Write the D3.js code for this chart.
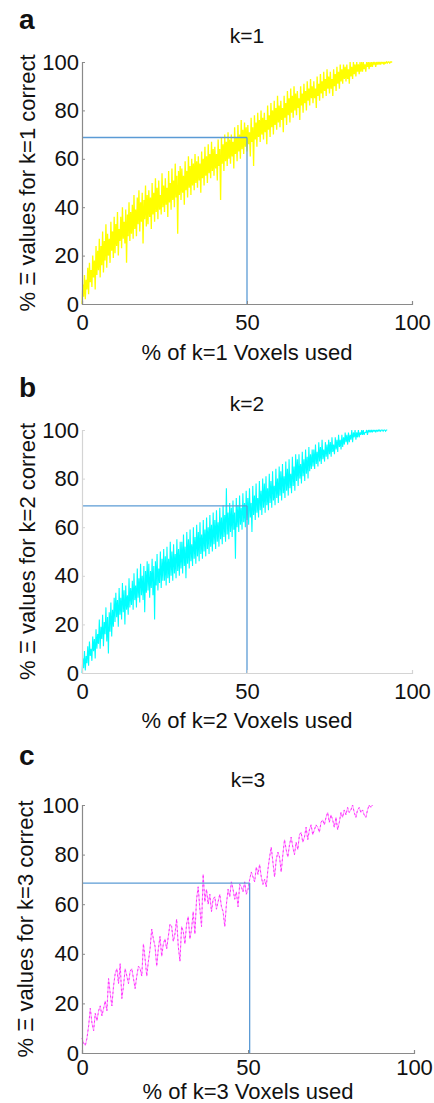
<!DOCTYPE html>
<html><head><meta charset="utf-8">
<script src="https://cdn.jsdelivr.net/npm/d3@7"></script>
<style>
html,body{margin:0;padding:0;background:#fff;}
svg{display:block;font-family:"Liberation Sans",Arial,sans-serif;}
</style></head>
<body>
<svg id="chart" width="434" height="1103"></svg>
<script>
// ---------- data ----------
const panelLetters = ["a", "b", "c"];
const panelTitles = ["k=1", "k=2", "k=3"];
const xLabels = ["% of k=1 Voxels used", "% of k=2 Voxels used", "% of k=3 Voxels used"];
const yLabels = ["% \u039E values for k=1 correct", "% \u039E values for k=2 correct", "% \u039E values for k=3 correct"];
const xTicks = [0, 50, 100];
const yTicks = [0, 20, 40, 60, 80, 100];
const xSteps = [0.25, 0.25, 0.5]; // % of voxels between successive samples
const seriesColors = ["#ffff00", "#00ffff", "#ff33ff"];
const refX = [50, 50, 50.5];     // vertical reference line (x)
const refY = [68.8, 68.8, 68.5]; // horizontal reference line (y)

const valuesK1 = [
 0,8,3,12,2,10,6,15,4,17,9,14,7,20,11,18,6,24,12,22,
 14,27,11,24,16,30,13,26,18,33,15,29,20,27,17,34,22,30,19,36,
 21,33,24,38,20,31,26,36,23,40,27,34,25,39,17,37,28,42,26,38,
 29,41,27,45,31,39,28,44,33,47,30,42,34,46,25,43,35,49,32,45,
 33,47,36,44,31,50,37,46,34,52,38,48,35,51,39,45,37,54,40,49,
 38,52,41,48,36,55,42,50,39,56,43,51,40,58,44,53,29,55,45,57,
 43,56,46,53,41,59,47,55,44,61,48,57,45,60,49,58,47,62,50,59,
 48,61,51,58,46,63,52,60,49,65,53,61,50,66,54,62,52,67,55,64,
 53,65,56,62,51,68,57,64,43,69,58,66,55,70,59,67,57,71,60,68,
 58,70,61,67,56,73,62,69,59,74,63,70,60,76,64,72,62,75,65,73,
 63,74,66,71,61,77,67,73,57,78,68,75,65,79,69,76,67,80,70,77,
 68,79,71,76,66,82,72,78,69,83,73,80,70,84,74,81,72,86,75,82,
 73,84,76,81,71,86,77,83,74,88,78,85,75,89,79,86,77,90,80,87,
 78,88,81,85,76,90,82,87,79,91,83,88,80,92,84,89,82,93,85,90,
 83,92,85,89,81,94,86,91,84,95,87,92,85,96,88,93,86,97,89,94,
 87,96,89,93,86,97,90,95,88,98,91,96,89,99,92,97,91,99,93,98,
 92,99,93,97,91,100,94,98,93,100,95,99,94,100,96,99,95,100,96,100,
 96,100,97,99,96,100,98,100,97,100,98,100,98,100,99,100,98,100,99,100,
 99,100,99,100,99.5,100,99,100,99.5,100,99.5,100,100,99.5,100,100,100
];
const valuesK2 = [
 0,6,2,9,1,7,4,11,3,13,7,10,5,15,9,14,6,18,10,16,
 12,22,10,19,14,24,11,21,16,27,13,23,8,25,17,29,15,26,19,31,
 21,33,23,30,19,35,24,31,22,37,25,34,20,36,26,32,24,39,27,35,
 28,38,26,41,30,36,27,43,31,39,29,45,32,40,30,44,25,42,33,46,
 34,45,31,42,35,47,32,44,22,46,36,49,34,43,37,50,35,47,38,51,
 38,48,36,52,39,47,37,54,40,50,38,53,41,49,39,55,42,51,40,54,
 43,54,41,57,44,52,39,58,45,55,43,59,46,53,44,60,47,56,45,61,
 48,58,46,62,49,57,47,63,50,59,48,64,51,60,49,65,52,61,50,66,
 53,63,51,67,54,62,52,68,55,64,53,69,56,65,54,76,57,66,55,70,
 58,68,56,71,59,66,47,72,60,69,58,73,61,68,59,74,62,70,60,75,
 63,72,61,76,64,70,58,77,65,73,63,78,66,72,64,79,67,75,65,80,
 68,78,66,81,69,76,67,82,70,79,68,83,71,77,69,84,72,80,70,85,
 73,83,71,86,74,81,72,87,75,84,73,88,76,82,74,89,77,85,75,90,
 79,88,77,90,80,86,78,91,81,88,79,92,82,89,80,93,83,90,84,92,
 85,92,84,94,86,91,85,95,87,93,86,96,88,92,87,95,89,94,88,96,
 90,95,89,97,91,94,90,97,92,96,91,98,93,96,92,98,93,97,94,99,
 95,98,94,99,95,98,96,100,95,99,97,100,96,99,97,100,97,99,98,100,
 98,100,98,99,99,100,98,100,99,100,99,100,99,100,99.5,100,99,100,99.5,100,
 99.5,100,99.5,100,100,99.5,100,100,99.5,100,100
];
const valuesK3 = [
 6,4,3,6,11,18,12,9,16,13,
 17,19,15,18,21,17,30,24,19,27,
 32,34,28,36,22,27,34,31,28,33,
 34,30,26,31,35,34,31,44,38,31,
 37,42,50,46,43,35,42,47,39,44,
 46,42,47,52,51,45,48,54,43,37,
 51,49,44,52,55,46,50,57,48,62,
 67,58,51,72,61,66,60,64,57,62,
 63,58,61,64,59,57,51,60,66,63,
 69,66,62,65,59,68,67,65,69,64,
 66,70,73,71,69,75,72,76,71,68,
 70,67,74,79,83,77,71,78,81,79,
 73,80,86,82,79,84,87,83,80,85,
 82,88,89,85,87,91,86,90,92,88,
 90,92,91,89,93,94,92,95,97,93,
 96,94,91,95,90,93,97,95,98,96,
 99,97,98,100,97,95,98,99,97,98,
 96,95,98,100,99,100
];
const seriesValues = [valuesK1, valuesK2, valuesK3];

// ---------- layout ----------
const panels = [
  {top: 62,  bottom: 304,  left: 82, right: 412, titleY: 43,  letterY: 29,  xlabY: 360,  ylabX: 35, tickY: 26, axis: "#8a8a8a", sw: 1.3},
  {top: 430, bottom: 673,  left: 82, right: 412, titleY: 411, letterY: 397, xlabY: 728,  ylabX: 35, tickY: 26, axis: "#d4d4d4", sw: 1.1},
  {top: 805, bottom: 1053, left: 82, right: 414, titleY: 787, letterY: 765, xlabY: 1099, ylabX: 33, tickY: 22, axis: "#8a8a8a", sw: 1.0}
];

const svg = d3.select("#chart");
const fs = 22;

panels.forEach((p, k) => {
  const x = d3.scaleLinear().domain([0, 100]).range([p.left, p.right]);
  const y = d3.scaleLinear().domain([0, 100]).range([p.bottom, p.top]);
  const g = svg.append("g");

  // series line
  const vals = seriesValues[k];
  const line = d3.line().x((d, i) => x(i * xSteps[k])).y(d => y(d));
  if (k < 2) {
    g.append("path").datum(vals).attr("d", line)
      .attr("fill", "none").attr("stroke", seriesColors[k])
      .attr("stroke-width", p.sw).attr("stroke-linejoin", "miter").attr("stroke-miterlimit", 2);
  } else {
    g.append("path").datum(vals).attr("d", line)
      .attr("fill", "none").attr("stroke", "#ff99ff").attr("stroke-width", 0.9);
    g.append("path").datum(vals).attr("d", line)
      .attr("fill", "none").attr("stroke", seriesColors[k])
      .attr("stroke-width", 1).attr("stroke-dasharray", "2,2.5");
  }

  // reference lines
  g.append("line").attr("x1", x(0)).attr("x2", x(refX[k])).attr("y1", y(refY[k])).attr("y2", y(refY[k]))
    .attr("stroke", "#5b9bd5").attr("stroke-width", 1.3);
  g.append("line").attr("x1", x(refX[k])).attr("x2", x(refX[k])).attr("y1", y(refY[k])).attr("y2", y(0))
    .attr("stroke", "#5b9bd5").attr("stroke-width", 1.3);

  // axes
  const xa = g.append("g").attr("transform", `translate(0,${p.bottom})`)
    .call(d3.axisBottom(x).tickValues(xTicks).tickSize(-3).tickPadding(8).tickFormat(d3.format("d")));
  const ya = g.append("g").attr("transform", `translate(${p.left},0)`)
    .call(d3.axisLeft(y).tickValues(yTicks).tickSize(-3).tickPadding(3).tickFormat(d3.format("d")));
  [xa, ya].forEach(a => {
    a.select(".domain").attr("stroke", p.axis).attr("stroke-width", 1.2);
    a.selectAll(".tick line").attr("stroke", p.axis);
    a.selectAll("text").attr("font-size", fs).attr("fill", "#111").attr("font-family", "Liberation Sans, Arial, sans-serif");
  });
  xa.selectAll("text").attr("dy", null).attr("y", p.tickY);

  // titles and labels
  g.append("text").attr("x", (p.left + p.right) / 2).attr("y", p.titleY).attr("text-anchor", "middle")
    .attr("font-size", 21).attr("fill", "#111").text(panelTitles[k]);
  g.append("text").attr("x", 19).attr("y", p.letterY).attr("font-size", 28).attr("font-weight", "bold")
    .attr("fill", "#111").text(panelLetters[k]);
  g.append("text").attr("x", (p.left + p.right) / 2).attr("y", p.xlabY).attr("text-anchor", "middle")
    .attr("font-size", fs).attr("fill", "#111").text(xLabels[k]);
  g.append("text").attr("transform", `translate(${p.ylabX},${(p.top + p.bottom) / 2}) rotate(-90)`)
    .attr("text-anchor", "middle").attr("font-size", fs).attr("fill", "#111").text(yLabels[k]);
});
</script>
</body></html>
